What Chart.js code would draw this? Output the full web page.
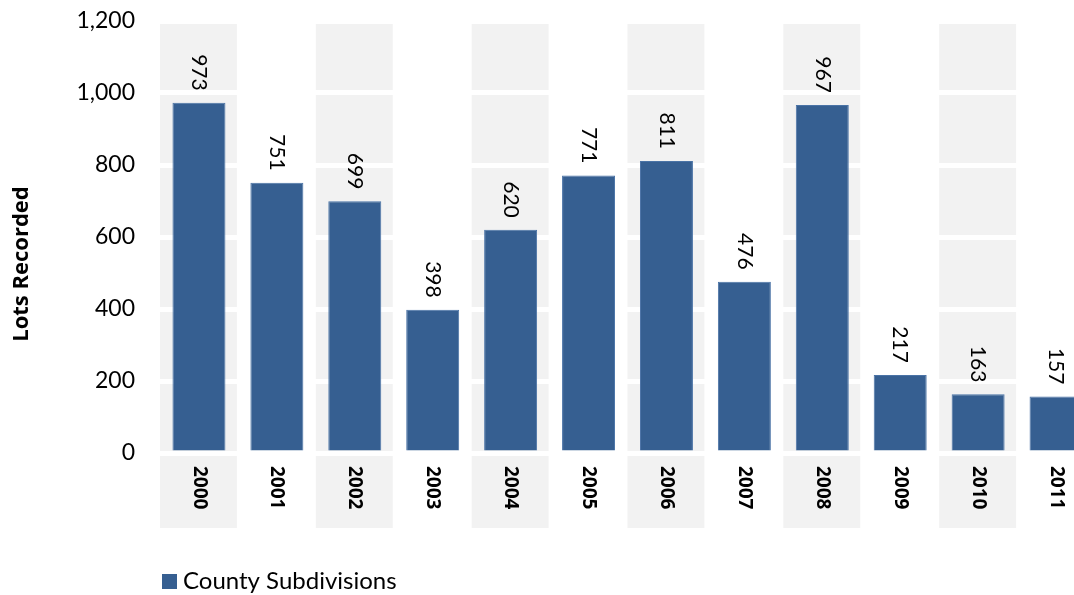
<!DOCTYPE html>
<html>
<head>
<meta charset="utf-8">
<script src="https://cdn.jsdelivr.net/npm/chart.js@4"></script>
<style>
  html, body { margin: 0; padding: 0; background: #fff; overflow: hidden; }
  #wrap { position: absolute; left: 0; top: 0; width: 1100px; height: 595px; }
</style>
</head>
<body>
<div id="wrap"><canvas id="lotsChart" width="1100" height="595"></canvas></div>
<script>
const years = ['2000', '2001', '2002', '2003', '2004', '2005', '2006', '2007', '2008', '2009', '2010', '2011'];
const lotsRecorded = [973, 751, 699, 398, 620, 771, 811, 476, 967, 217, 163, 157];
const seriesName = 'County Subdivisions';
const axisTitle = 'Lots Recorded';

const FONT = 'Lato, "Open Sans", sans-serif';
const BOLD_FONT = '"Open Sans", sans-serif';
const BAR_COLOR = '#365f91';
const BAND_COLOR = '#f2f2f2';

// gray bands behind every other year, running down through the year labels
const bandPlugin = {
    id: 'bands',
    beforeDraw(chart) {
        const { ctx, chartArea, scales } = chart;
        const step = (chartArea.right - chartArea.left) / years.length;
        ctx.save();
        ctx.fillStyle = BAND_COLOR;
        years.forEach((y, i) => {
            if (i % 2 !== 0) return;
            const cx = scales.x.getPixelForValue(i);
            ctx.fillRect(cx - step / 2, chartArea.top, step - 1, 528 - chartArea.top);
        });
        ctx.restore();
    }
};

// rotated value labels, year labels, axis title and legend
const labelPlugin = {
    id: 'labels',
    afterDraw(chart) {
        const { ctx, chartArea, scales } = chart;
        const meta = chart.getDatasetMeta(0);
        ctx.save();
        ctx.fillStyle = '#000';

        // values above bars
        ctx.font = '21px ' + FONT;
        meta.data.forEach((bar, i) => {
            ctx.save();
            ctx.translate(bar.x, bar.y - 12);
            ctx.rotate(Math.PI / 2);
            ctx.textAlign = 'right';
            ctx.textBaseline = 'middle';
            ctx.fillText(String(lotsRecorded[i]), 0, 0);
            ctx.restore();
        });

        // year labels under the axis
        ctx.font = 'bold 19px ' + BOLD_FONT;
        years.forEach((y, i) => {
            ctx.save();
            ctx.translate(scales.x.getPixelForValue(i), chartArea.bottom + 13);
            ctx.rotate(Math.PI / 2);
            ctx.textAlign = 'left';
            ctx.textBaseline = 'middle';
            ctx.fillText(y, 0, 0);
            ctx.restore();
        });

        // y axis title
        ctx.save();
        ctx.font = 'bold 22px ' + BOLD_FONT;
        ctx.translate(22, 264);
        ctx.rotate(-Math.PI / 2);
        ctx.textAlign = 'center';
        ctx.textBaseline = 'middle';
        ctx.fillText(axisTitle, 0, 0);
        ctx.restore();

        // legend
        ctx.fillStyle = BAR_COLOR;
        ctx.fillRect(162, 574, 15, 15);
        ctx.fillStyle = '#000';
        ctx.font = '24px ' + FONT;
        ctx.textAlign = 'left';
        ctx.textBaseline = 'middle';
        ctx.fillText(seriesName, 183, 581);
        ctx.restore();
    }
};

const ctx = document.getElementById('lotsChart').getContext('2d');
new Chart(ctx, {
    type: 'bar',
    data: {
        labels: years,
        datasets: [{
            label: seriesName,
            data: lotsRecorded,
            backgroundColor: BAR_COLOR,
            borderColor: '#4a73a6',
            borderWidth: 1,
            barPercentage: 0.68,
            categoryPercentage: 1
        }]
    },
    options: {
        responsive: false,
        animation: false,
        layout: { padding: { top: 21, right: 5, bottom: 142, left: 0 } },
        plugins: {
            legend: { display: false },
            tooltip: { enabled: false }
        },
        scales: {
            x: { display: false },
            y: {
                min: 0,
                max: 1200,
                afterFit: (scale) => { scale.width = 160; },
                border: { display: false },
                grid: {
                    color: '#ffffff',
                    lineWidth: 5,
                    drawTicks: true,
                    tickLength: 22,
                    tickColor: 'rgba(0,0,0,0)'
                },
                ticks: {
                    stepSize: 200,
                    padding: 3,
                    color: '#000',
                    font: { family: FONT, size: 23 },
                    callback: value => value.toLocaleString('en-US')
                }
            }
        }
    },
    plugins: [bandPlugin, labelPlugin]
});
</script>
</body>
</html>
